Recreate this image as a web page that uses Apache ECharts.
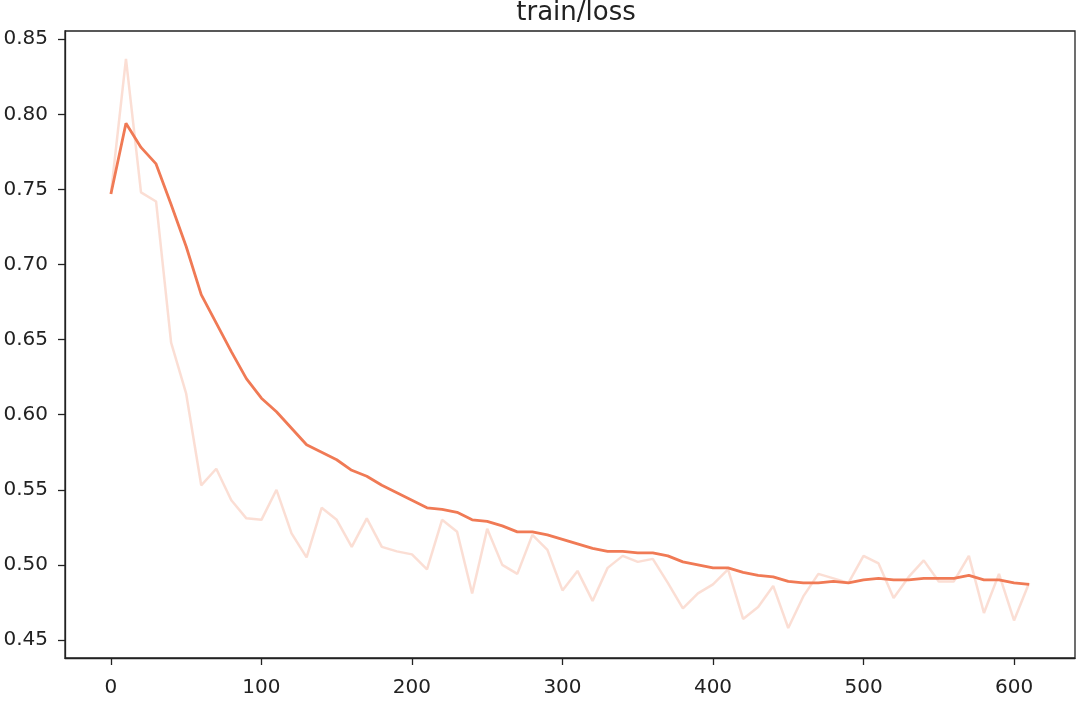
<!DOCTYPE html>
<html>
<head>
<meta charset="utf-8">
<script src="https://cdn.jsdelivr.net/npm/echarts@6/dist/echarts.min.js"></script>
<style>
html,body{margin:0;padding:0;background:#fff;}
#chart{width:1080px;height:701px;}
</style>
</head>
<body>
<div id="chart"></div>
<script>
const titleText = 'train/loss';
const steps = [0,10,20,30,40,50,60,70,80,90,100,110,120,130,140,150,160,170,180,190,200,210,220,230,240,250,260,270,280,290,300,310,320,330,340,350,360,370,380,390,400,410,420,430,440,450,460,470,480,490,500,510,520,530,540,550,560,570,580,590,600,610];
const rawLoss = [0.747,0.837,0.748,0.742,0.648,0.614,0.553,0.564,0.543,0.531,0.530,0.550,0.521,0.505,0.538,0.530,0.512,0.531,0.512,0.509,0.507,0.497,0.530,0.522,0.481,0.524,0.500,0.494,0.520,0.510,0.483,0.496,0.476,0.498,0.506,0.502,0.504,0.488,0.471,0.481,0.487,0.497,0.464,0.472,0.486,0.458,0.479,0.494,0.491,0.488,0.506,0.501,0.478,0.492,0.503,0.489,0.489,0.506,0.468,0.494,0.463,0.488];
const smoothLoss = [0.747,0.794,0.778,0.767,0.740,0.712,0.680,0.661,0.642,0.624,0.611,0.602,0.591,0.580,0.575,0.570,0.563,0.559,0.553,0.548,0.543,0.538,0.537,0.535,0.530,0.529,0.526,0.522,0.522,0.520,0.517,0.514,0.511,0.509,0.509,0.508,0.508,0.506,0.502,0.500,0.498,0.498,0.495,0.493,0.492,0.489,0.488,0.488,0.489,0.488,0.490,0.491,0.490,0.490,0.491,0.491,0.491,0.493,0.490,0.490,0.488,0.487];
const xTicks = [0,100,200,300,400,500,600];
const yTicks = [0.45,0.50,0.55,0.60,0.65,0.70,0.75,0.80,0.85];

const lineColor = '#f07a55';
const textColor = '#222';
const font = 'DejaVu Sans';

const chart = echarts.init(document.getElementById('chart'), null, {renderer: 'canvas'});
chart.setOption({
  animation: false,
  backgroundColor: '#fff',
  title: {
    text: titleText,
    left: 571, textAlign: 'center',
    top: -5,
    textStyle: {fontFamily: font, fontSize: 26, fontWeight: 'normal', color: textColor}
  },
  grid: {
    left: 65, right: 5, top: 31, bottom: 43,
    show: true, borderColor: '#222', borderWidth: 1.3, backgroundColor: 'transparent'
  },
  xAxis: {
    type: 'value',
    min: -30.5, max: 640.5,
    axisLine: {show: true, onZero: false, lineStyle: {color: '#222', width: 1.3}},
    axisTick: {show: true, inside: false, length: 7, customValues: xTicks, lineStyle: {color: '#222', width: 1.3}},
    axisLabel: {customValues: xTicks, margin: 20, fontFamily: font, fontSize: 20, color: textColor,
      formatter: v => String(v)},
    splitLine: {show: false}
  },
  yAxis: {
    type: 'value',
    min: 0.438, max: 0.8555,
    axisLine: {show: true, onZero: false, lineStyle: {color: '#222', width: 1.3}},
    axisTick: {show: true, inside: false, length: 7, customValues: yTicks, lineStyle: {color: '#222', width: 1.3}},
    axisLabel: {customValues: yTicks, margin: 17, fontFamily: font, fontSize: 20, color: textColor,
      formatter: v => v.toFixed(2)},
    splitLine: {show: false}
  },
  series: [
    {
      name: 'raw', type: 'line', showSymbol: false, symbol: 'none',
      data: steps.map((s, i) => [s, rawLoss[i]]),
      lineStyle: {color: lineColor, width: 2.5, opacity: 0.25},
      itemStyle: {color: lineColor},
      z: 2
    },
    {
      name: 'smoothed', type: 'line', showSymbol: false, symbol: 'none',
      data: steps.map((s, i) => [s, smoothLoss[i]]),
      lineStyle: {color: lineColor, width: 2.8},
      itemStyle: {color: lineColor},
      z: 3
    }
  ]
});
</script>
</body>
</html>
